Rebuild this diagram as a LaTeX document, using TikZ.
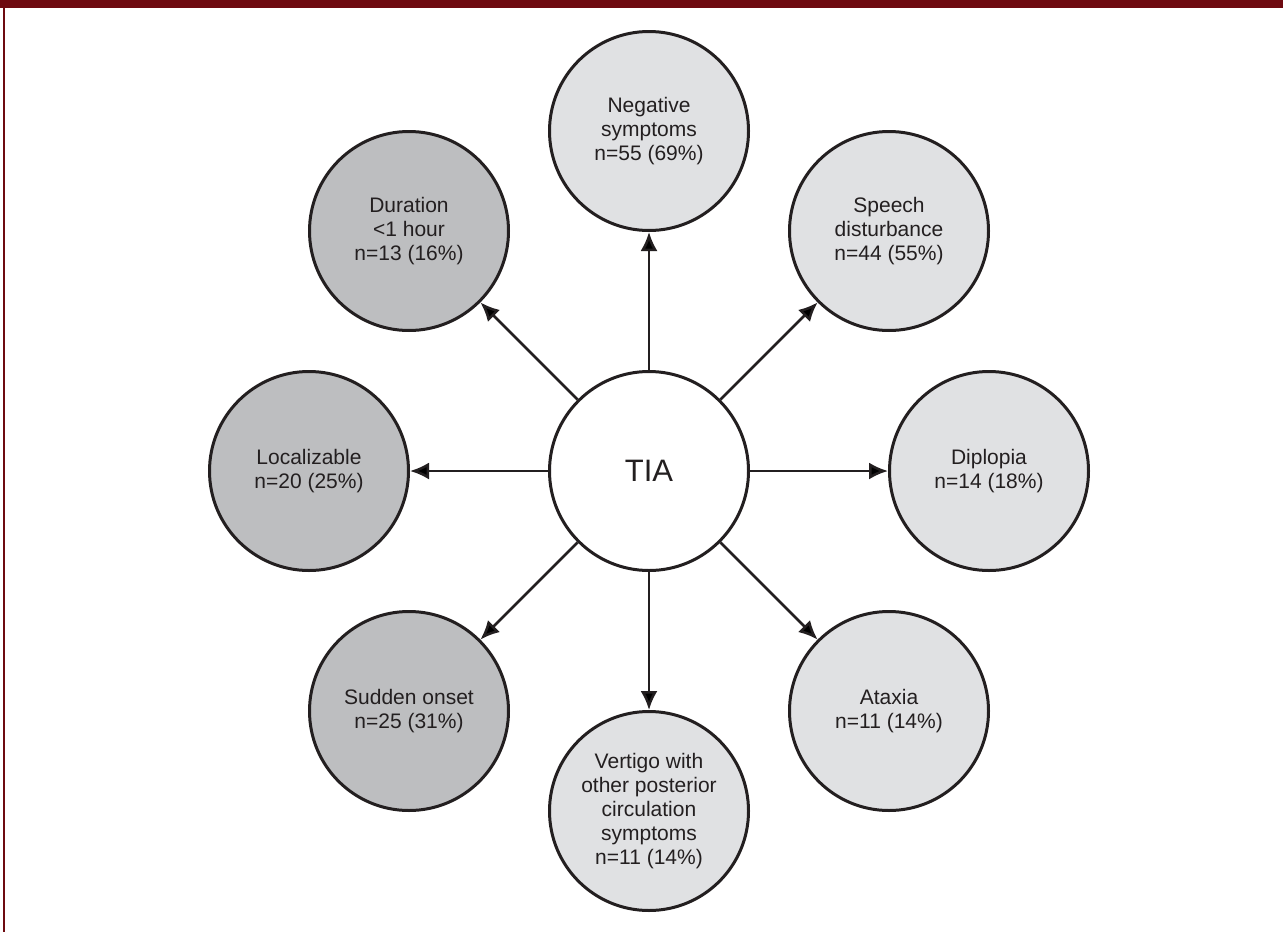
\documentclass[tikz,border=0pt]{standalone}
\usepackage{fontspec}
\setmainfont{Liberation Sans}
\usetikzlibrary{arrows.meta}

\definecolor{framered}{HTML}{6E0A10}
\definecolor{inkgray}{HTML}{231F20}
\definecolor{lightfill}{HTML}{E0E1E3}
\definecolor{darkfill}{HTML}{BDBEC0}

\tikzstyle{hubstyle} = [circle, draw=inkgray, line width=3pt, fill=white, minimum size=199pt, inner sep=0, text=inkgray, font=\fontsize{31}{36}\selectfont]
\tikzstyle{lightstyle} = [circle, draw=inkgray, line width=3pt, fill=lightfill, minimum size=199pt, inner sep=0, align=center, text=inkgray, font=\fontsize{21}{24}\selectfont]
\tikzstyle{darkstyle} = [lightstyle, fill=darkfill]

\begin{document}
\begin{tikzpicture}[x=1pt, y=-1pt]
  \useasboundingbox (0,0) rectangle (1283,932);
  \fill[framered] (0,0) rectangle (1283,7.5);
  \fill[framered] (3,0) rectangle (5,932);

  \node at (649, 471) [hubstyle] (tia) {TIA};

  \node at (649, 131) [lightstyle] (neg) {Negative\\symptoms\\n=55 (69\%)};
  \node at (889, 231) [lightstyle] (speech) {Speech\\disturbance\\n=44 (55\%)};
  \node at (989, 471) [lightstyle] (dipl) {Diplopia\\n=14 (18\%)};
  \node at (889, 711) [lightstyle] (atax) {Ataxia\\n=11 (14\%)};
  \node at (649, 811) [lightstyle] (vert) {Vertigo with\\other posterior\\circulation\\symptoms\\n=11 (14\%)};

  \node at (409, 711) [darkstyle] (onset) {Sudden onset\\n=25 (31\%)};
  \node at (309, 471) [darkstyle] (local) {Localizable\\n=20 (25\%)};
  \node at (409, 231) [darkstyle] (dur) {Duration\\<1 hour\\n=13 (16\%)};

  \path[-{Latex[length=19pt, width=17pt]}, draw=inkgray, line width=2.5pt]
     (tia) edge (neg)
     (tia) edge (speech)
     (tia) edge (dipl)
     (tia) edge (atax)
     (tia) edge (vert)
     (tia) edge (onset)
     (tia) edge (local)
     (tia) edge (dur);
\end{tikzpicture}
\end{document}
